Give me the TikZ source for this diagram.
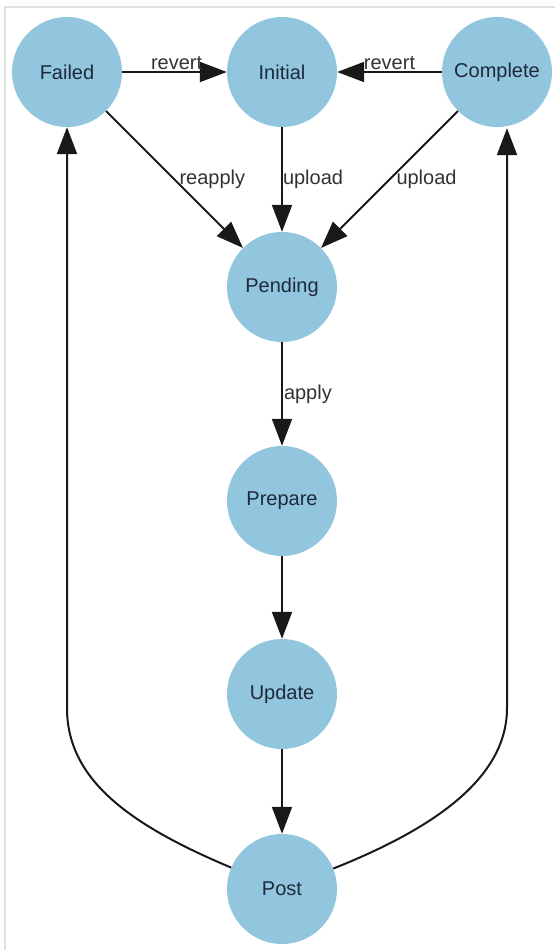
\documentclass[tikz,border=0pt]{standalone}
\usepackage{fontspec}
\setmainfont{Liberation Sans}
\usetikzlibrary{arrows.meta}
\definecolor{nodefill}{RGB}{146,197,222}
\definecolor{nodetext}{RGB}{30,42,58}
\definecolor{labeltext}{RGB}{50,50,50}
\definecolor{frame}{RGB}{225,225,225}
\begin{document}
\begin{tikzpicture}[x=1pt,y=-1pt,
  state/.style={circle, fill=nodefill, draw=none, minimum size=110pt, inner sep=0pt,
    text=nodetext, font=\fontsize{20}{23}\selectfont},
  edge/.style={line width=2pt, draw=black!90, -{Triangle[length=27pt,width=20pt]}},
  lbl/.style={text=labeltext, font=\fontsize{20}{23}\selectfont}]
\useasboundingbox (0,0) rectangle (555,950);
\draw[frame, line width=1.2pt] (5,950) -- (5,7) -- (555,7);
\node[state] (Failed) at (67,72) {Failed};
\node[state] (Initial) at (282,72) {Initial};
\node[state] (Complete) at (497,72) {Complete};
\node[state] (Pending) at (282,287) {Pending};
\node[state] (Prepare) at (282,501) {Prepare};
\node[state] (Update) at (282,694) {Update};
\node[state] (Post) at (282,889) {Post};
\coordinate (lbend) at (67,708);
\coordinate (rbend) at (507,708);
\draw[edge] (Failed) -- node[lbl, above, inner sep=1pt, pos=0.52] {revert} (Initial);
\draw[edge] (Complete) -- node[lbl, above, inner sep=1pt, pos=0.5] {revert} (Initial);
\draw[edge] (Failed) -- node[lbl, right, inner sep=4pt, pos=0.5] {reapply} (Pending);
\draw[edge] (Initial) -- node[lbl, right, inner sep=0pt, pos=0.5] {upload} (Pending);
\draw[edge] (Complete) -- node[lbl, right, inner sep=6pt, pos=0.5] {upload} (Pending);
\draw[edge] (Pending) -- node[lbl, right, inner sep=1pt, pos=0.5] {apply} (Prepare);
\draw[edge] (Prepare) -- (Update);
\draw[edge] (Update) -- (Post);
\draw[edge] (Post) .. controls (130,825) and (67,780) .. (lbend) -- (Failed);
\draw[edge] (Post) .. controls (430,830) and (507,780) .. (rbend) -- ([yshift=-1pt]rbend |- Complete.south);
\end{tikzpicture}
\end{document}
